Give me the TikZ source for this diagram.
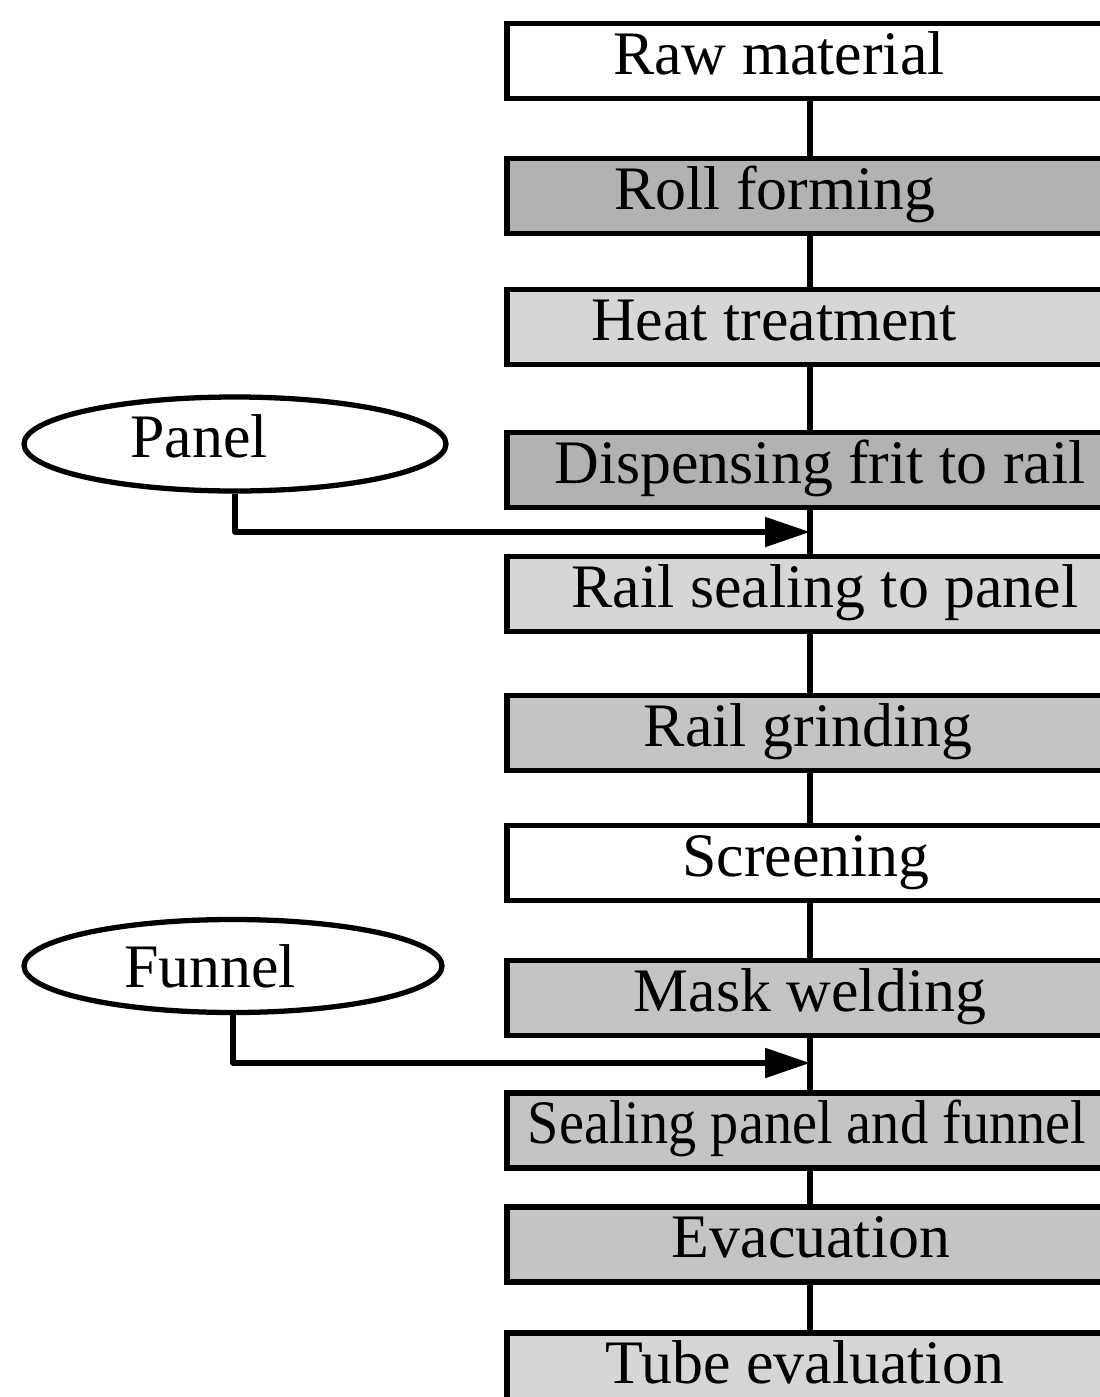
\documentclass[tikz,border=0pt]{standalone}
\usepackage{fontspec}
\setmainfont{Liberation Serif}
\usepackage{graphicx}
\usetikzlibrary{shapes.geometric,arrows.meta}
\definecolor{graydark}{gray}{0.70}
\definecolor{graymid}{gray}{0.77}
\definecolor{graylight}{gray}{0.84}
\tikzset{
  procbox/.style={draw, line width=1.7pt, minimum width=6.06cm, minimum height=0.75cm, inner sep=0pt},
  proctext/.style={text height=12pt, text depth=4.6pt, inner sep=0pt},
  source/.style={draw, ellipse, line width=1.5pt, inner sep=0pt},
  flowline/.style={line width=1.5pt},
  feed/.style={line width=1.5pt, line join=round, -{Triangle[length=4.5mm,width=2.9mm]}}
}

\begin{document}
\begin{tikzpicture}[font=\fontsize{17.6}{21}\selectfont]
\useasboundingbox (0,0) rectangle (10.99,-13.97);

% process chain
\node[procbox, fill=white, label={[proctext,xshift=-3.1mm]center:Raw material}] (raw) at (8.10,-0.61) {};
\node[procbox, fill=graydark, label={[proctext,xshift=-3.5mm]center:Roll forming}] (roll) at (8.10,-1.96) {};
\node[procbox, fill=graylight, label={[proctext,xshift=-3.6mm]center:Heat treatment}] (heat) at (8.10,-3.27) {};
\node[procbox, fill=graydark, label={[proctext,xshift=1.0mm]center:Dispensing frit to rail}] (disp) at (8.10,-4.70) {};
\node[procbox, fill=graylight, label={[proctext,xshift=1.5mm]center:Rail sealing to panel}] (seal) at (8.10,-5.94) {};
\node[procbox, fill=graymid, label={[proctext,xshift=-0.2mm]center:Rail grinding}] (grind) at (8.10,-7.33) {};
\node[procbox, fill=white, label={[proctext,xshift=-0.4mm]center:Screening}] (screen) at (8.10,-8.63) {};
\node[procbox, fill=graymid, label={[proctext]center:Mask welding}] (mask) at (8.10,-9.98) {};
\node[procbox, fill=graymid, label={[proctext,xshift=-0.3mm]center:\scalebox{0.91}[1]{Sealing panel and funnel}}] (join) at (8.10,-11.30) {};
\node[procbox, fill=graymid, label={[proctext,xshift=0.1mm]center:Evacuation}] (evac) at (8.10,-12.44) {};
\node[procbox, fill=graylight, label={[proctext,xshift=-0.5mm]center:Tube evaluation}] (tube) at (8.10,-13.70) {};

\draw[flowline] (raw) -- (roll);
\draw[flowline] (roll) -- (heat);
\draw[flowline] (heat) -- (disp);
\draw[flowline] (disp) -- (seal);
\draw[flowline] (seal) -- (grind);
\draw[flowline] (grind) -- (screen);
\draw[flowline] (screen) -- (mask);
\draw[flowline] (mask) -- (join);
\draw[flowline] (join) -- (evac);
\draw[flowline] (evac) -- (tube);

% parts fed in
\node[source, minimum width=4.22cm, minimum height=0.94cm, label={[xshift=-3.6mm,yshift=0.8mm]center:Panel}] (panel) at (2.35,-4.44) {};
\node[source, minimum width=4.18cm, minimum height=0.93cm, label={[xshift=-2.3mm]center:Funnel}] (funnel) at (2.33,-9.66) {};

\coordinate (pin) at (8.10,-5.32);
\coordinate (fin) at (8.10,-10.63);
\draw[feed] (panel.south) |- (pin);
\draw[feed] (funnel.south) |- (fin);
\end{tikzpicture}
\end{document}
